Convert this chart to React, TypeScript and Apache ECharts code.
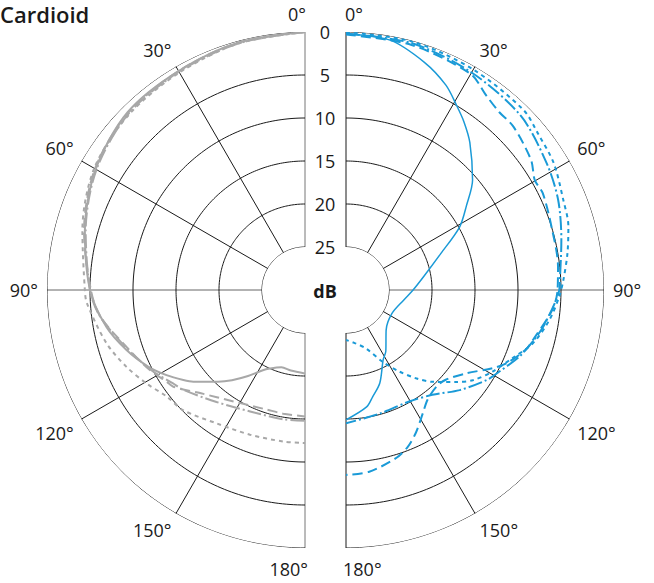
import React, { useEffect, useRef } from "react";
import * as echarts from "echarts";

// ---- data: [angle in degrees, attenuation in dB] ----
const angleTicks = [0, 30, 60, 90, 120, 150, 180];
const dbTicks = [0, 5, 10, 15, 20, 25];

// Left half (grey)
const greySolid: number[][] = [
  [0, 0], [15, 0.2], [30, 0.6], [45, 0.8], [60, 1.9], [75, 3.5], [90, 5], [100.5, 6.5],
  [108.6, 8.1], [116, 9.7], [121.6, 11.1], [126.5, 12.4], [129.4, 13.2], [136.5, 15.3],
  [141, 16.5], [146.5, 18], [152, 19.4], [156, 20], [163, 20.6], [170, 20.5], [180, 20.3],
];
const greyDash: number[][] = [
  [0, 0], [15, 0.2], [30, 0.6], [45, 0.9], [60, 1.8], [75, 3.4], [90, 5.1], [97.4, 6],
  [107.6, 8.2], [117.3, 9.7], [123.5, 10.7], [126.3, 11], [134.5, 12.9], [147.3, 14.6],
  [162, 15.4], [170, 15.4], [180, 15.3],
];
const greyDashDot: number[][] = [
  [0, 0], [15, 0.3], [30, 0.7], [45, 1.0], [60, 2.0], [75, 3.6], [90, 5.0], [97, 5.9],
  [107.6, 8.1], [117.3, 9.8], [125.3, 11.2], [129.4, 11.7], [141.7, 13.4], [155.7, 14.5],
  [170.5, 14.75], [180, 14.8],
];
const greyDotted: number[][] = [
  [0, 0], [15, 0.3], [30, 0.8], [45, 1.1], [60, 1.7], [75, 3.2], [90, 4.4], [93.5, 4.6],
  [105, 6.1], [113.3, 7.4], [120.5, 8.6], [127.6, 9.7], [134.6, 10.1], [146.5, 11.4],
  [159.2, 12], [171.9, 12.2], [180, 12.2],
];

// Right half (blue)
const blueSolid: number[][] = [
  [0, 0.2], [10, 0.5], [19, 2], [26, 3.5], [31, 5], [35, 6.1], [40, 7.6], [49, 10.5],
  [55, 12.9], [61, 14.9], [69, 18.2], [80, 20.8], [90, 22.2], [100, 23.2], [117, 24],
  [135, 23.4], [147, 21.5], [152, 20.8], [160, 18.5], [166, 17.2], [170, 16.2], [180, 14.9],
];
const blueDash: number[][] = [
  [0, 0.3], [15, 0.5], [30, 1], [35.7, 2.1], [40.7, 2.7], [45.7, 2.8], [54.9, 3.7],
  [59.8, 4.6], [63.8, 4.5], [72.9, 5], [83.7, 5.2], [90, 5.4], [95.5, 5.9], [105, 7.5],
  [108.4, 8], [114.6, 9.5], [118.1, 10.7], [124.8, 13], [132, 14.4], [137, 14.6],
  [143.4, 14.1], [148.1, 13.1], [154, 11.5], [158.5, 10.4], [163.5, 9.6], [172.7, 8.7],
  [180, 8.5],
];
const blueDashDot: number[][] = [
  [0, 0.2], [15, 0.3], [30, 0.8], [45, 1.3], [57.7, 2.4], [67, 3.2], [77, 4.3],
  [87.3, 5.1], [90, 5.2], [100, 6.6], [105, 7.4], [111, 8.4], [118, 9.8], [122.7, 10.6],
  [131.4, 12.4], [140.5, 14.2], [150.5, 15.1], [164.9, 15.1], [180, 14.5],
];
const blueDotted: number[][] = [
  [0, 0], [15, 0.1], [30, 0.4], [44.6, 0.6], [50.8, 1.2], [58.6, 1.7], [67.5, 2.65],
  [74, 3.1], [80.6, 3.9], [87.4, 4.7], [91.8, 5.2], [98.4, 6.1], [105.9, 7.4],
  [112.3, 9.1], [119.1, 10.5], [125.4, 11.9], [129.8, 13.3], [136.6, 15.3], [141.6, 16.9],
  [146.9, 18.7], [152.9, 20.6], [161, 22.8], [170, 23.7], [180, 24.2],
];

const FONT = "'Open Sans', 'Noto Sans', sans-serif";
const GREY = "#a8a8a8";
const BLUE = "#1a9ad7";
const INK = "#1a1a1a";

const toPolar = (pts: number[][]) => pts.map(([a, d]) => [d, a]);

// half-circle grid rings at each dB tick, drawn through the polar scales
const ringAngles: number[] = [];
for (let a = 0; a <= 180; a += 1) ringAngles.push(a);

function angleAxis(idx: number, clockwise: boolean) {
  return {
    polarIndex: idx,
    type: "value",
    min: 0,
    max: 180,
    interval: 30,
    startAngle: 90,
    endAngle: clockwise ? -90 : 270,
    clockwise,
    axisLine: { show: false },
    axisTick: { show: false },
    axisLabel: {
      show: true,
      margin: 9,
      fontSize: 18,
      color: INK,
      fontFamily: FONT,
      formatter: (v: number) => (v === 0 || v === 180 ? "" : v + "°"),
    },
    splitLine: {
      show: true,
      lineStyle: {
        color: idx === 0
          ? ["#777", INK, INK, "#666", INK, INK, "#777"]
          : [INK, INK, INK, "#666", INK, INK, INK],
        width: 1,
      },
    },
  };
}

function radiusAxis(idx: number, labels: boolean) {
  return {
    polarIndex: idx,
    type: "value",
    min: 0,
    max: 25,
    interval: 5,
    inverse: true,
    axisLine: { show: false },
    axisTick: { show: false },
    axisLabel: {
      show: labels,
      align: "center",
      verticalAlign: "middle",
      margin: 21,
      fontSize: 18,
      color: INK,
      fontFamily: FONT,
      padding: [6, 0, 0, 0],
      formatter: (v: number) => (dbTicks.indexOf(v) >= 0 ? String(v) : ""),
    },
    splitLine: { show: false },
  };
}

function line(name: string, data: number[][], polarIndex: number, color: string, type: any, width: number) {
  return {
    name,
    type: "line",
    coordinateSystem: "polar",
    polarIndex,
    data: toPolar(data),
    symbol: "none",
    smooth: 0.3,
    silent: true,
    lineStyle: { color, width, type },
    z: 5,
  };
}

function ring(d: number, polarIndex: number) {
  return {
    type: "line",
    coordinateSystem: "polar",
    polarIndex,
    data: ringAngles.map((a) => [d, a]),
    symbol: "none",
    silent: true,
    lineStyle: { color: INK, width: 1, type: "solid" },
    z: 2,
  };
}

export default function App() {
  const ref = useRef<HTMLDivElement>(null);
  useEffect(() => {
    if (!ref.current) return;
    const chart = echarts.init(ref.current, undefined, { renderer: "svg" });
    const text = (t: string, x: number, y: number, align: string, extra: any = {}) => ({
      type: "text",
      x,
      y,
      style: {
        text: t,
        fontSize: 18,
        fontFamily: FONT,
        fill: INK,
        align,
        verticalAlign: "middle",
        ...extra,
      },
      z: 10,
    });
    const rings: any[] = [];
    dbTicks.forEach((d) => {
      rings.push(ring(d, 0));
      rings.push(ring(d, 1));
    });
    chart.setOption({
      animation: false,
      polar: [
        { center: [305, 290], radius: [43, 258] },
        { center: [346, 290], radius: [43, 258] },
      ],
      angleAxis: [angleAxis(0, false), angleAxis(1, true)],
      radiusAxis: [radiusAxis(0, false), radiusAxis(1, true)],
      series: [
        ...rings,
        line("grey solid", greySolid, 0, GREY, "solid", 2),
        line("grey dashed", greyDash, 0, GREY, [10, 5], 2),
        line("grey dash-dot", greyDashDot, 0, GREY, [14, 3, 2, 3], 2),
        line("grey dotted", greyDotted, 0, GREY, [4, 4], 2),
        line("blue solid", blueSolid, 1, BLUE, "solid", 1.5),
        line("blue dashed", blueDash, 1, BLUE, [10, 5], 2),
        line("blue dash-dot", blueDashDot, 1, BLUE, [14, 3, 2, 3], 2),
        line("blue dotted", blueDotted, 1, BLUE, [4, 4], 2),
      ],
      graphic: [
        text("Cardioid", 0, 14, "left", { fontSize: 22, fontWeight: 600 }),
        text(angleTicks[0] + "°", 306, 14, "right"),
        text(angleTicks[0] + "°", 345, 14, "left"),
        text(angleTicks[6] + "°", 308, 569, "right"),
        text(angleTicks[6] + "°", 343, 569, "left"),
        text("dB", 325, 291, "center", { fontWeight: "bold" }),
      ],
    });
    return () => chart.dispose();
  }, []);
  return (
    <div
      ref={ref}
      style={{ position: "fixed", left: 0, top: 0, width: 654, height: 583, background: "#fff" }}
    />
  );
}
